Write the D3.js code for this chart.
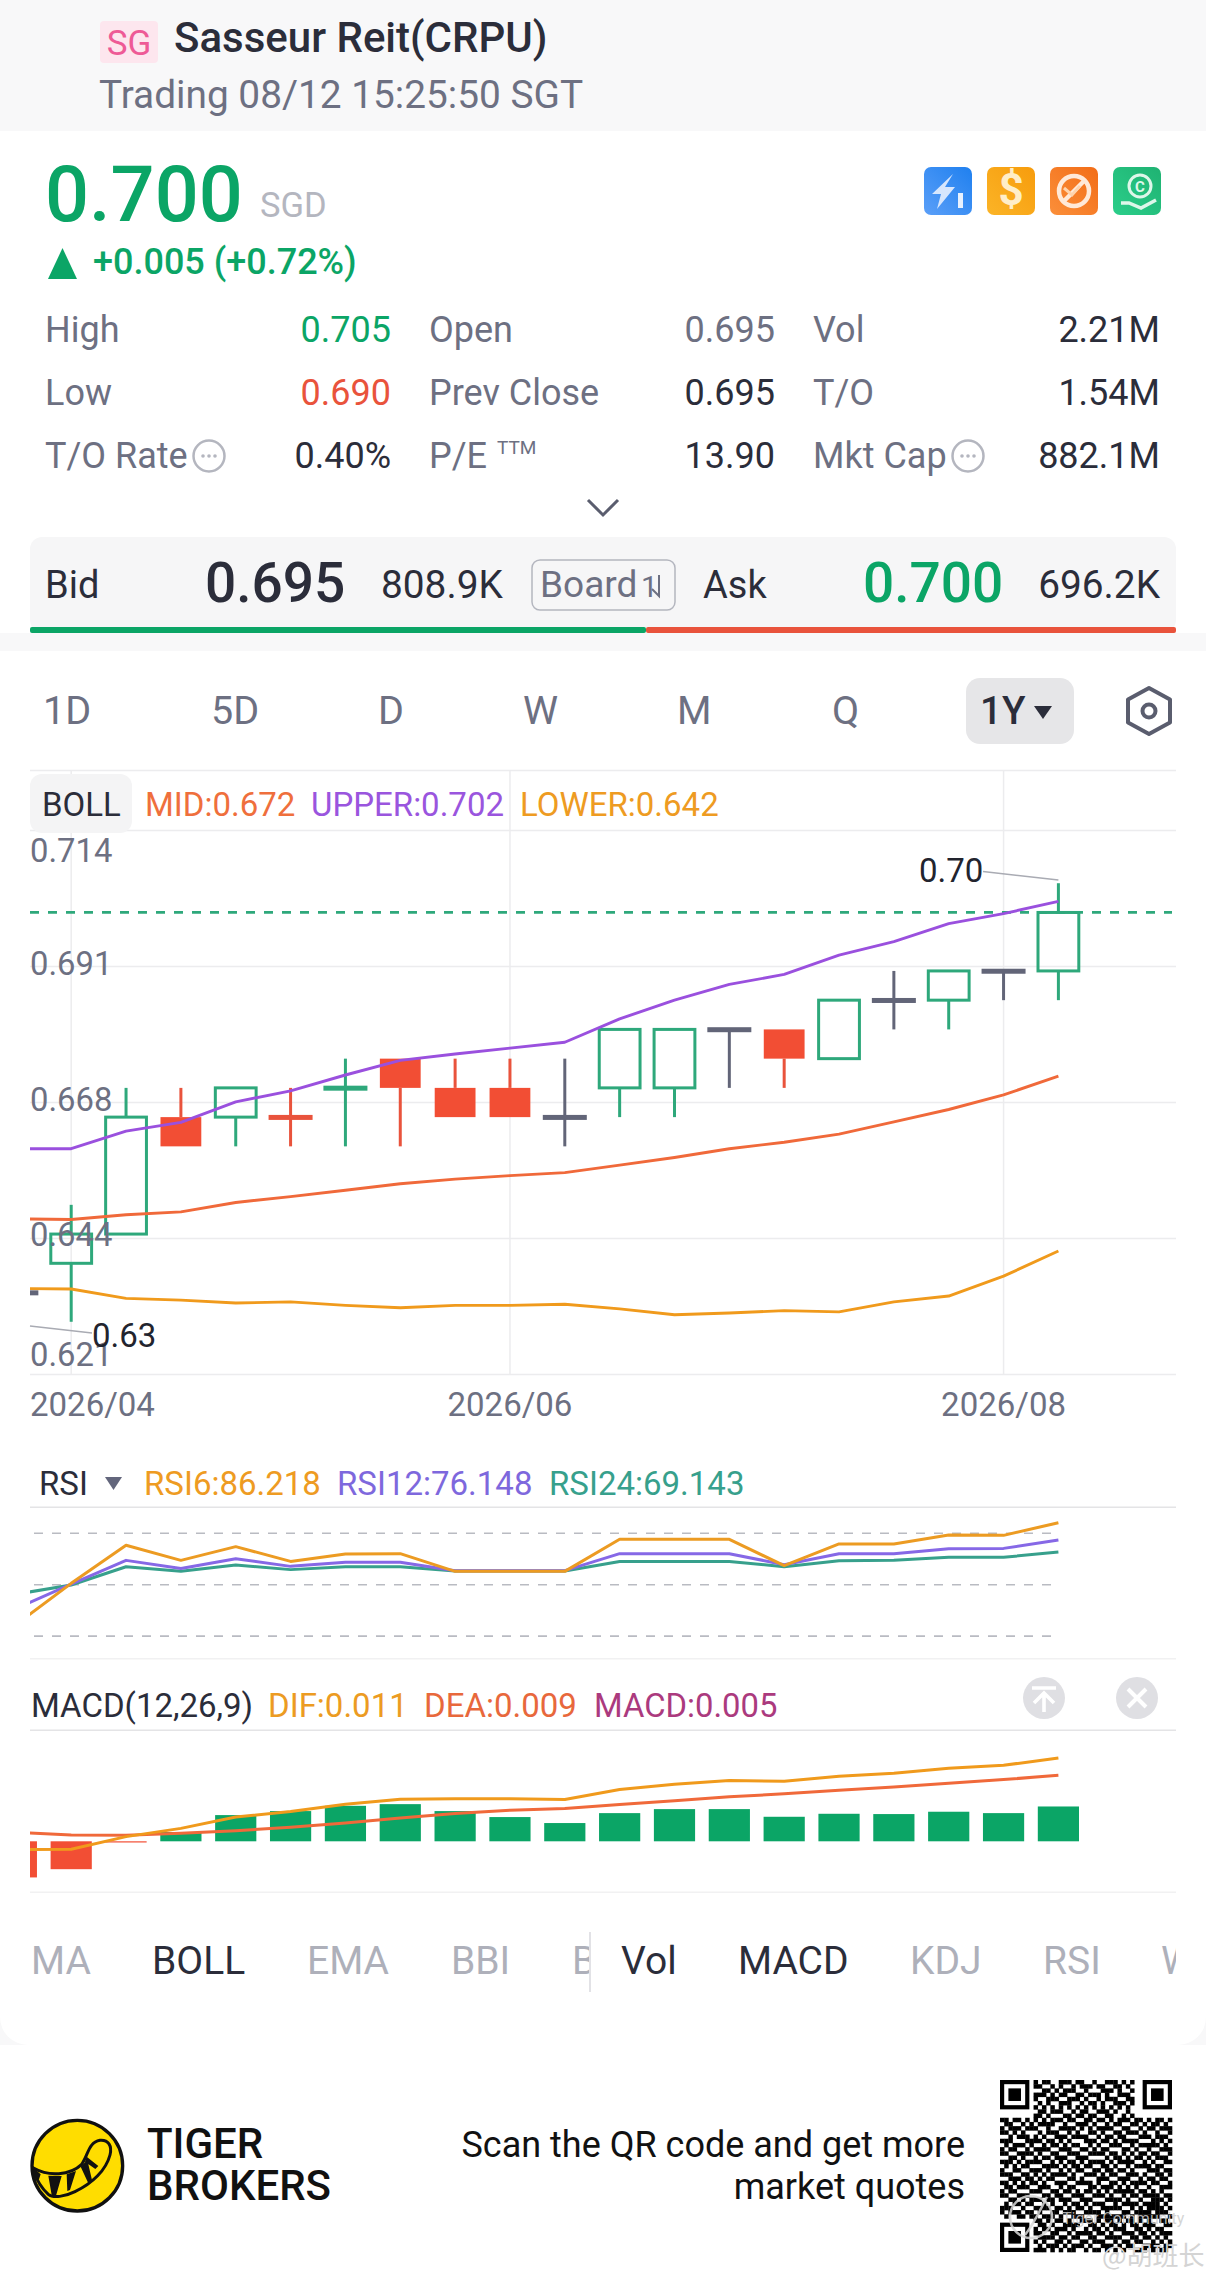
<!DOCTYPE html>
<html>
<head>
<meta charset="utf-8">
<title>Sasseur Reit(CRPU)</title>
<script src="https://cdn.jsdelivr.net/npm/d3@7/dist/d3.min.js"></script>
<style>
html,body{margin:0;padding:0;background:#fff;}
svg{display:block;}
text{font-family:Roboto,"Noto Sans",sans-serif;}
</style>
</head>
<body>
<div id="plot"></div>
<script>
// candles, first one is the slot cut off at the left edge
var slots  = [-1,0,1,2,3,4,5,6,7,8,9,10,11,12,13,14,15,16,17,18];
var opens  = [.635,.640,.645,.665,.665,.665,.670,.675,.670,.670,.665,.670,.670,.680,.680,.675,.685,.685,.690,.690];
var closes = [.635,.645,.665,.660,.670,.665,.670,.670,.665,.665,.665,.680,.680,.680,.675,.685,.685,.690,.690,.700];
var highs  = [.635,.650,.670,.670,.670,.670,.675,.675,.675,.675,.675,.680,.680,.680,.680,.685,.690,.690,.690,.705];
var lows   = [.635,.630,.645,.660,.660,.660,.660,.660,.665,.665,.660,.665,.665,.670,.670,.675,.680,.680,.685,.685];

var bollMid   = [.6476,.6475,.6483,.6488,.6504,.6514,.6525,.6536,.6544,.6550,.6555,.6568,.6581,.6596,.6607,.6621,.6642,.6663,.6688,.6720];
var bollUpper = [.6596,.6596,.6626,.6641,.6676,.6695,.6722,.6747,.6758,.6768,.6778,.6818,.6850,.6877,.6894,.6927,.6950,.6981,.6998,.7019];
var bollLower = [.6357,.6356,.6340,.6337,.6332,.6334,.6328,.6324,.6328,.6328,.6330,.6322,.6312,.6315,.6319,.6317,.6334,.6344,.6378,.6421];

var rsi6  = [26.8,50.8,73.0,64.2,72.2,63.6,67.9,68.1,57.8,57.8,57.8,76.5,76.5,76.5,61.1,73.8,73.8,79.0,78.8,86.2];
var rsi12 = [36.2,50.4,64.2,59.4,65.2,60.7,63.1,63.1,58.2,58.2,58.2,68.1,68.1,68.1,61.7,68.1,68.1,71.0,71.2,76.1];
var rsi24 = [44.5,49.8,60.5,57.8,61.5,58.8,60.5,60.5,58.0,58.0,58.0,63.6,63.6,63.6,60.5,64.0,64.2,66.0,66.0,69.1];
var rsiLevels = [80,50,20];

var macdBars = [-.00495,-.00382,-.00014,.00127,.00359,.00414,.00486,.00509,.00414,.00332,.00250,.00386,.00441,.00441,.00336,.00377,.00373,.00405,.00386,.00477];
var macdDif  = [-.00114,-.00109,.00064,.00177,.00332,.00409,.00509,.00577,.00582,.00582,.00573,.00709,.00782,.00832,.00823,.00891,.00932,.01000,.01041,.01141];
var macdDea  = [.00123,.00086,.00082,.00109,.00145,.00191,.00250,.00318,.00382,.00427,.00450,.00505,.00555,.00609,.00650,.00700,.00745,.00795,.00845,.00905];

var priceTicks = [.714,.69075,.6675,.64425,.621];
var priceTickLabels = ['0.714','0.691','0.668','0.644','0.621'];
var dateSlots = [0,8,17];
var dateLabels = ['2026/04','2026/06','2026/08'];
var lastPrice = 0.700;

var periods = ['1D','5D','D','W','M','Q'];
var statLabels = [['High','Open','Vol'],['Low','Prev Close','T/O'],['T/O Rate','P/E','Mkt Cap']];
var statValues = [['0.705','0.695','2.21M'],['0.690','0.695','1.54M'],['0.40%','13.90','882.1M']];
var tabsLeft = ['MA','BOLL','EMA','BBI','B'];
var tabsRight = ['Vol','MACD','KDJ','RSI','W'];

var qrRows = [
'00000000101100111011001001110101000000000',
'00000000110010100101110110011010000000000',
'00000000001101011100100011101001000000000',
'00000000111010110011011101001110000000000',
'00000000100111001110100101110011000000000',
'00000000010100111001011010011101000000000',
'00000000101010101010101010101010000000000',
'00000000011011100101100111010010000000000',
'00000000110100011011011001100101000000000',
'11011010101011101100110110101110110101101',
'01100101011110010011101001011001101011010',
'10111011100100111101010111100110010110111',
'11010100010111001010011010011011101001001',
'00101110101001110111100101101100011101110',
'11100011110110101000111011010111100010101',
'01011101001011010110010100111001011111010',
'10110010111100111001101011000110100100111',
'11001111010011001110011110110101011011001',
'00110100101101110011100001011010110101110',
'11101011110010101101011110101111001010011',
'01010110001111010110110011010010111101100',
'10011001110100101011001101101101000111011',
'11100110101011110100111010110011101001101',
'00111011010110001101000111001110010110110',
'11010101101001110011110100110101111011001',
'01101110011100101100011011101010100100111',
'10110001110011011010110101011111011010100',
'11001110001101100111001110100101101111011',
'00110101110110111001110001111010010011101',
'01011011001010010110101110010111101111010',
'11100100111101101011010011111001010111101',
'10111011010011011100111101000110111101110',
'01001101101110100111000111111101011111001',
'00000000110101101001110101101011010100110',
'00000000011010011110011010110101101110011',
'00000000101101110100101101011100110101100',
'00000000110011001011110110100111011010111',
'00000000011110110110011001111001101101010',
'00000000101001101001101110010110110010101',
'00000000010111010111010011101011001111011',
'00000000111010101100101101010100111010110'
];

var colGreen = '#0ba566', colRed = '#e9533c', colDark = '#2b2d3a', colGray = '#6d7082', colLight = '#b4b6bf',
    hollowGreen = '#2ea87b', bodyRed = '#f24e34', dojiGray = '#626578', gridCol = '#ececee',
    purple = '#9a50de', midCol = '#f0693a', lowCol = '#f09a1c';

var svg = d3.select('#plot').append('svg').attr('width',1206).attr('height',2286);

function label(x,y,s,size,fill,anchor,weight,parent){
    return (parent||svg).append('text')
        .attr('x',x).attr('y',y)
        .attr('font-size',size)
        .attr('fill',fill)
        .attr('text-anchor',anchor||'start')
        .attr('font-weight',weight||400)
        .text(s);
}
function box(x,y,w,h,fill,r,parent){
    return (parent||svg).append('rect').attr('x',x).attr('y',y).attr('width',w).attr('height',h).attr('fill',fill).attr('rx',r||0);
}
function hline(y,col){
    svg.append('line').attr('x1',30).attr('x2',1176).attr('y1',y).attr('y2',y).attr('stroke',col||gridCol).attr('stroke-width',1.5);
}

// header
box(0,0,1206,131,'#f8f8f9');
box(100,21,58,42,'#fde6ee',4);
label(129,55,'SG',35,'#ee5a96','middle');
label(174,52,'Sasseur Reit(CRPU)',42,colDark,'start',500);
label(99,108,'Trading 08/12 15:25:50 SGT',38.8,colGray);

// quote
label(45,221,'0.700',77.5,colGreen,'start',500);
label(260,217,'SGD',34.5,colLight);
svg.append('path').attr('d','M62.5 248L77 279H48Z').attr('fill',colGreen);
label(93,274,'+0.005 (+0.72%)',36,colGreen,'start',500);

var defs = svg.append('defs');
function grad(id,a,b){
    var g = defs.append('linearGradient').attr('id',id).attr('x1',0).attr('y1',1).attr('x2',1).attr('y2',0);
    g.append('stop').attr('offset',0).attr('stop-color',a);
    g.append('stop').attr('offset',1).attr('stop-color',b);
}
grad('gb','#5b9ff8','#1f80ef'); grad('go','#fbb427','#f79c0c'); grad('gr','#fb8f3a','#f26d17'); grad('gg','#2bce8a','#1fb272');
[['gb',924],['go',987],['gr',1050],['gg',1113]].forEach(function(d){
    box(d[1],167,48,48,'url(#'+d[0]+')',7);
});
svg.append('path').attr('d','M953 174L932 194H941L937 209L955 187H945Z').attr('fill','#d6e6fd');
box(958,193,5,15,'#e8f1fe');
label(1011,205,'$',44,'#ffeec8','middle',700);
svg.append('circle').attr('cx',1074).attr('cy',191).attr('r',15).attr('fill','none').attr('stroke','#ffe9d8').attr('stroke-width',4.5);
svg.append('line').attr('x1',1063).attr('y1',202).attr('x2',1085).attr('y2',180).attr('stroke','#ffe9d8').attr('stroke-width',4.5);
svg.append('path').attr('d','M1064 188L1072 195L1080 186').attr('fill','none').attr('stroke','#ffd3ac').attr('stroke-width',3);
svg.append('circle').attr('cx',1140).attr('cy',186).attr('r',11).attr('fill','none').attr('stroke','#def7ea').attr('stroke-width',3);
label(1140,192,'C',15,'#def7ea','middle',700);
svg.append('path').attr('d','M1121 203H1129L1141 208L1156 200').attr('fill','none').attr('stroke','#def7ea').attr('stroke-width',3.5);

// stats table
var statY = [342,405,468], labelX = [45,429,813], valueX = [391,775,1160];
var valueCols = [[colGreen,colGray,colDark],[colRed,colDark,colDark],[colDark,colDark,colDark]];
statLabels.forEach(function(row,i){
    row.forEach(function(s,j){
        label(labelX[j],statY[i],s,36,colGray);
        label(valueX[j],statY[i],statValues[i][j],36,valueCols[i][j],'end');
    });
});
label(497,454,'TTM',19,colGray);
[209,968].forEach(function(cx){
    svg.append('circle').attr('cx',cx).attr('cy',456).attr('r',15.5).attr('fill','none').attr('stroke',colLight).attr('stroke-width',2.5);
    [-6,0,6].forEach(function(d){
        svg.append('circle').attr('cx',cx+d).attr('cy',456).attr('r',1.8).attr('fill',colLight);
    });
});
svg.append('path').attr('d','M588 500L603 515L618 500').attr('fill','none').attr('stroke','#5a5d6e').attr('stroke-width',3);

// bid / ask
box(0,633,1206,18,'#f8f8f9');
box(30,537,1146,95,'#f6f6f7',12);
label(45,598,'Bid',38,colDark);
label(205,602,'0.695',55,colDark,'start',500);
label(381,598,'808.9K',38.8,colDark);
box(532,560,143,50,'none',8).attr('stroke','#b4b6bf').attr('stroke-width',1.5);
label(540,597,'Board',37,colGray);
label(641,597,'1',30,colGray);
svg.append('path').attr('d','M659 575V596L652 589').attr('fill','none').attr('stroke',colGray).attr('stroke-width',2);
label(703,598,'Ask',38,colDark);
label(863,602,'0.700',55,colGreen,'start',500);
label(1160,598,'696.2K',38.8,colDark,'end');
box(30,627,616,6,colGreen,2);
box(646,627,530,6,colRed,2);

// period row
var periodX = d3.scaleOrdinal().domain(periods).range([43,211,378,523,677,832]);
periods.forEach(function(s){ label(periodX(s),724,s,39.5,colGray); });
box(966,678,108,66,'#e6e6e8',14);
label(980,724,'1Y',38.5,colDark,'start',500);
svg.append('path').attr('d','M1034 706H1052L1043 719Z').attr('fill',colDark);
svg.append('path').attr('d','M1149 688L1170 699.5V722.5L1149 734L1128 722.5V699.5Z').attr('fill','none').attr('stroke','#5a5d6e').attr('stroke-width',4).attr('stroke-linejoin','round');
svg.append('circle').attr('cx',1149).attr('cy',711).attr('r',6.5).attr('fill','none').attr('stroke','#5a5d6e').attr('stroke-width',4);

// shared x, plus clip so the first slot is cut at the left edge
var x = d3.scaleLinear().domain([0,18]).range([71.2,1058.4]);
defs.append('clipPath').attr('id','plotclip').append('rect').attr('x',30).attr('y',760).attr('width',1146).attr('height',1160);
defs.append('clipPath').attr('id','tabsL').append('rect').attr('x',30).attr('y',1920).attr('width',559).attr('height',80);
defs.append('clipPath').attr('id','tabsR').append('rect').attr('x',591).attr('y',1920).attr('width',585).attr('height',80);

// price panel
var y = d3.scaleLinear().domain([.714,.621]).range([830.6,1374.4]);
hline(770.4);
priceTicks.forEach(function(d){ hline(y(d)); });
dateSlots.forEach(function(d){
    svg.append('line').attr('x1',x(d)).attr('x2',x(d)).attr('y1',770).attr('y2',1374).attr('stroke',gridCol).attr('stroke-width',1.5);
});

box(30,774,102,59,'#f4f4f5',12);
label(42,816,'BOLL',33,colDark);
label(145,816,'MID:0.672',33,'#ef6f3c');
label(311,816,'UPPER:0.702',33,'#9a55de');
label(520,816,'LOWER:0.642',33,'#ee9b22');

var plot = svg.append('g').attr('clip-path','url(#plotclip)');

plot.append('line').attr('x1',30).attr('x2',1172).attr('y1',y(lastPrice)).attr('y2',y(lastPrice))
    .attr('stroke','#2ea87b').attr('stroke-width',2.8).attr('stroke-dasharray','9 9');

function candleCol(i){
    var prev = i>0 ? closes[i-1] : closes[i];
    if(closes[i]>opens[i]) return hollowGreen;
    if(closes[i]<opens[i]) return colRed;
    return closes[i]>prev ? hollowGreen : closes[i]<prev ? colRed : dojiGray;
}

var candles = plot.selectAll('g.candle').data(slots).enter().append('g').attr('class','candle');
candles.each(function(s,i){
    var g = d3.select(this), cx = x(s), col = candleCol(i),
        top = Math.max(opens[i],closes[i]), bot = Math.min(opens[i],closes[i]);
    g.append('line').attr('x1',cx).attr('x2',cx).attr('y1',y(highs[i])).attr('y2',y(top)).attr('stroke',col).attr('stroke-width',3);
    g.append('line').attr('x1',cx).attr('x2',cx).attr('y1',y(bot)).attr('y2',y(lows[i])).attr('stroke',col).attr('stroke-width',3);
    if(top==bot){
        g.append('rect').attr('x',cx-22).attr('width',44).attr('y',y(top)-2.2).attr('height',5).attr('fill',col);
    } else if(closes[i]>opens[i]){
        g.append('rect').attr('x',cx-20.4).attr('width',40.8).attr('y',y(top)).attr('height',y(bot)-y(top))
            .attr('fill','none').attr('stroke',col).attr('stroke-width',3);
    } else {
        g.append('rect').attr('x',cx-20.4).attr('width',40.8).attr('y',y(top)).attr('height',y(bot)-y(top)).attr('fill',bodyRed);
    }
});

function drawLine(parent,yScale,values,col,w){
    var line = d3.line().x(function(d,i){return x(slots[i])}).y(function(d){return yScale(d)});
    parent.append('path').attr('d',line(values)).attr('fill','none').attr('stroke',col).attr('stroke-width',w||2.9).attr('stroke-linejoin','round');
}
drawLine(plot,y,bollLower,lowCol);
drawLine(plot,y,bollMid,midCol);
drawLine(plot,y,bollUpper,purple);

// first tick label hangs below its gridline, last one sits above, the rest straddle
priceTickLabels.forEach(function(s,i){
    var off = i==0 ? 31 : i==priceTicks.length-1 ? -8 : 8;
    label(30,y(priceTicks[i])+off,s,32.8,colGray);
});
label(30,1416,dateLabels[0],33,colGray);
label(x(dateSlots[1]),1416,dateLabels[1],33,colGray,'middle');
label(x(dateSlots[2]),1416,dateLabels[2],33,colGray,'middle');

// max and min callouts
label(919,882,'0.70',33,'#22242e');
svg.append('line').attr('x1',983).attr('y1',871.5).attr('x2',x(18)).attr('y2',880).attr('stroke','#a9abb3').attr('stroke-width',1.6);
svg.append('line').attr('x1',30).attr('y1',1326).attr('x2',92).attr('y2',1333).attr('stroke','#a9abb3').attr('stroke-width',1.6);
label(92,1347,'0.63',33,'#22242e');

// RSI panel
var yRsi = d3.scaleLinear().domain([80,50]).range([1533.3,1584.7]);
label(39,1494.5,'RSI',33,colDark);
svg.append('path').attr('d','M105 1477H122L113.5 1490Z').attr('fill','#63667c');
label(144,1494.5,'RSI6:86.218',33,'#ee9b22');
label(337,1494.5,'RSI12:76.148',33,'#7e68dd');
label(549,1494.5,'RSI24:69.143',33,'#37a08c');
hline(1507.3,'#e4e4e6');
hline(1658.7,'#f1f1f2');
rsiLevels.forEach(function(d){
    svg.append('line').attr('x1',34).attr('x2',1052).attr('y1',yRsi(d)).attr('y2',yRsi(d))
        .attr('stroke','#b9bbc2').attr('stroke-width',1.6).attr('stroke-dasharray','9 9');
});
var rsiPlot = svg.append('g').attr('clip-path','url(#plotclip)');
drawLine(rsiPlot,yRsi,rsi24,'#37a08c',3);
drawLine(rsiPlot,yRsi,rsi12,'#8668e6',3);
drawLine(rsiPlot,yRsi,rsi6,'#ec9b22',3);

// MACD panel
var yMacd = d3.scaleLinear().domain([0,.001]).range([1841.3,1834]);
label(31,1717,'MACD(12,26,9)',33,colDark);
label(268,1717,'DIF:0.011',33,'#ec9b22');
label(424,1717,'DEA:0.009',33,'#e8683c');
label(594,1717,'MACD:0.005',32.8,'#ab3a7e');
hline(1730.3,'#e4e4e6');
hline(1892.3,'#f1f1f2');
[1044,1137].forEach(function(cx){
    svg.append('ellipse').attr('cx',cx).attr('cy',1698).attr('rx',21).attr('ry',21).attr('fill','#dfdfe3');
});
svg.append('path').attr('d','M1032 1688H1056M1044 1712V1693M1034 1703L1044 1693L1054 1703').attr('fill','none').attr('stroke','#fff').attr('stroke-width',3.6);
svg.append('path').attr('d','M1128 1689L1146 1707M1146 1689L1128 1707').attr('fill','none').attr('stroke','#fff').attr('stroke-width',4);

var macdPlot = svg.append('g').attr('clip-path','url(#plotclip)');
macdPlot.selectAll('rect').data(macdBars).enter().append('rect')
    .attr('x',function(d,i){return x(slots[i])-20.6})
    .attr('width',41.2)
    .attr('y',function(d){return Math.min(yMacd(d),yMacd(0))})
    .attr('height',function(d){return Math.max(1.2,Math.abs(yMacd(d)-yMacd(0)))})
    .attr('fill',function(d){return d<0 ? bodyRed : colGreen});
drawLine(macdPlot,yMacd,macdDea,midCol,3);
drawLine(macdPlot,yMacd,macdDif,lowCol,3);

// indicator tabs
box(0,2010,1206,35,'#f8f8f9');
box(0,1900,1206,145,'#fff',28);
var tabLX = d3.scaleOrdinal().domain(tabsLeft).range([31,152,307,451,572]),
    tabRX = d3.scaleOrdinal().domain(tabsRight).range([621,738,910,1043,1161]);
var tabL = svg.append('g').attr('clip-path','url(#tabsL)'),
    tabR = svg.append('g').attr('clip-path','url(#tabsR)');
tabsLeft.forEach(function(s){ label(tabLX(s),1974,s,39,s=='BOLL'?colDark:'#aeb0ba','start',400,tabL); });
box(589,1932,2,60,'#e2e2e6');
tabsRight.forEach(function(s){ label(tabRX(s),1974,s,39,(s=='Vol'||s=='MACD')?colDark:'#aeb0ba','start',400,tabR); });

// footer logo
var logo = svg.append('g').attr('transform','translate(20,2105) scale(0.3333)');
logo.append('circle').attr('cx',172).attr('cy',182).attr('r',136).attr('fill','#ffdd00').attr('stroke','#111').attr('stroke-width',10);
logo.append('path').attr('d','M42 190C85 215 150 212 185 178C205 150 205 112 240 106C265 104 277 122 270 150C258 195 218 235 165 260C135 275 100 280 85 268C65 250 50 225 42 200Z')
    .attr('fill','#ffdd00').attr('stroke','#111').attr('stroke-width',9);
logo.append('path').attr('d','M42 190L62 208L56 226L42 205ZM85 212L125 213L108 272L95 270ZM140 208L168 198L150 255L142 258ZM182 185L202 165L216 225L205 235ZM200 155L235 183L226 192L195 170Z').attr('fill','#111');
label(147,2158,'TIGER',42,'#111','start',500);
label(147,2200,'BROKERS',42,'#111','start',500);
label(965,2157,'Scan the QR code and get more',36,'#111','end');
label(965,2199,'market quotes',36,'#111','end');

// QR
var qr = d3.scaleBand().domain(d3.range(41)).range([1000,1172]),
    qy = d3.scaleBand().domain(d3.range(41)).range([2080,2252]);
var qrg = svg.append('g');
qrRows.forEach(function(row,r){
    row.split('').forEach(function(c,k){
        if(c=='1') qrg.append('rect').attr('x',qr(k)).attr('y',qy(r)).attr('width',qr.bandwidth()+.3).attr('height',qy.bandwidth()+.3).attr('fill','#000');
    });
});
[[0,0],[34,0],[0,34]].forEach(function(p){
    var u = qr.bandwidth();
    box(qr(p[0]),qy(p[1]),u*7,u*7,'#000',0,qrg);
    box(qr(p[0])+u,qy(p[1])+u,u*5,u*5,'#fff',0,qrg);
    box(qr(p[0])+u*2,qy(p[1])+u*2,u*3,u*3,'#000',0,qrg);
});

// watermark
svg.append('circle').attr('cx',1031).attr('cy',2217).attr('r',21).attr('fill','none').attr('stroke','rgba(215,215,215,.85)').attr('stroke-width',2.5);
svg.append('path').attr('d','M1025 2235C1035 2222 1040 2210 1047 2197').attr('fill','none').attr('stroke','rgba(215,215,215,.85)').attr('stroke-width',2.5);
label(1062,2224,'Tiger Community',16,'rgba(205,205,205,.85)');
label(1102,2265,'@胡班长',26,'#d4d4d4').style('font-family','"Noto Sans CJK SC"');
</script>
</body>
</html>
